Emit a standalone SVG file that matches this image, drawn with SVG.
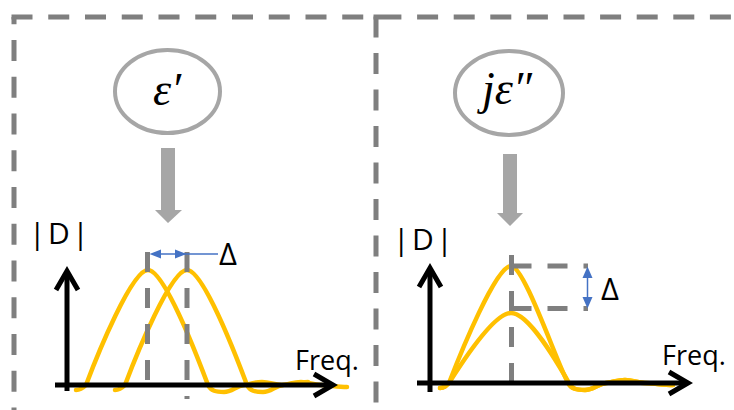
<svg xmlns="http://www.w3.org/2000/svg" width="734" height="410" viewBox="0 0 734 410">
<style>
.box{fill:none;stroke:#7f7f7f;stroke-width:5;stroke-dasharray:21 15.75}
.gd{fill:none;stroke:#7f7f7f;stroke-width:5;stroke-dasharray:20 16}
.ell{fill:#fff;stroke:#a6a6a6;stroke-width:4}
.blk{fill:#a6a6a6}
.curve{fill:none;stroke:#ffc000;stroke-width:4.5;stroke-linecap:round;stroke-linejoin:round}
.axis{fill:none;stroke:#000;stroke-width:5;marker-end:url(#chev)}
.blue{fill:none;stroke:#4472c4;stroke-width:1.5}
.bh{fill:#4472c4}
.lbl{font-family:"Open Sans","Liberation Sans",sans-serif;fill:#000}
.math{font-family:"Liberation Serif","DejaVu Serif",serif;font-style:italic;fill:#000;text-anchor:middle}
</style>
<defs>
<marker id="chev" markerUnits="userSpaceOnUse" markerWidth="30" markerHeight="30" refX="22" refY="13" orient="auto" overflow="visible">
<path d="M3 2 L22 13 L3 24" fill="none" stroke="#000" stroke-width="5"/>
</marker>
</defs>

<g id="frames">
<line class="box" x1="11.5" y1="17" x2="366" y2="17"/>
<line class="box" x1="14" y1="17" x2="14" y2="420" stroke-dashoffset="13.75"/>
<line class="box" x1="376" y1="16.5" x2="376" y2="420" style="stroke-dasharray:21 15.5"/>
<line x1="373.5" y1="17" x2="401.4" y2="17" stroke="#7f7f7f" stroke-width="5"/>
<line class="box" x1="417.1" y1="17" x2="734" y2="17" style="stroke-dasharray:21 15.6"/>
</g>

<g id="node-eps1">
<ellipse class="ell" cx="167.5" cy="91.5" rx="52.5" ry="41.5"/>
<text class="math" x="167" y="105" font-size="46">ε′</text>
</g>

<g id="node-eps2">
<ellipse class="ell" cx="509" cy="93" rx="54" ry="42"/>
<text class="math" x="507" y="104" font-size="46">jε″</text>
</g>

<g id="connectors">
<polygon class="blk" points="161,148 175,148 175,210 182,210 168,223 155,210 161,210"/>
<polygon class="blk" points="503,154 517,154 517,213 523,213 510,226 497,213 503,213"/>
</g>

<g id="chart-left">
<path class="curve" d="M76 390 C80 390 83 388 86 385 C98 353 132 270 148 270 C164 270 196 353 208 385 C211 391 216 392 224 392 C232 392 236 386 244 385 C252 384 254 382 262 382 C270 382 274 385 282 385 C290 385 298 382 308 382"/>
<path class="curve" d="M115 390 C119 390 122 388 125 385 C137 353 171 270 187 270 C203 270 235 353 247 385 C250 391 255 392 263 392 C271 392 275 386 283 385 C291 384 293 382 301 382 C309 382 313 385 321 385 C329 385 337 387 347 387"/>
<line class="gd" x1="147.5" y1="252" x2="147.5" y2="385"/>
<line class="gd" x1="187" y1="252" x2="187" y2="399"/>
<line class="axis" x1="67" y1="391" x2="67" y2="271"/>
<line class="axis" x1="55" y1="385" x2="333" y2="385"/>
<line class="blue" x1="155" y1="254" x2="218" y2="254"/>
<polygon class="bh" points="149.5,254 161,249.5 161,258.5"/>
<polygon class="bh" points="186.5,254 175,249.5 175,258.5"/>
<text class="lbl" x="29" y="244" font-size="30" letter-spacing="2.5">|D|</text>
<text class="lbl" x="219" y="265" font-size="31">Δ</text>
<text class="lbl" x="295" y="370" font-size="27">Freq.</text>
</g>

<g id="chart-right">
<path class="curve" d="M440 388 C444 388 446 386 449 383 C461 364 494 313 511 313 C529 313 557 362 569 383 C572 389 577 390 585 390 C593 390 598 384 606 383 C614 382 617 380 625 380 C633 380 637 383 645 383 C653 383 663 385 673 385"/>
<path class="curve" d="M440 388 C444 388 446 386 449 383 C461 352 496 266 511 266 C524 266 555 358 568 383 C571 389 576 390 585 390 C593 390 598 384 606 383 C614 382 617 380 625 380 C633 380 637 383 645 383 C653 383 663 385 673 385"/>
<line class="gd" x1="511.5" y1="255" x2="511.5" y2="385"/>
<line class="gd" x1="511.5" y1="266" x2="588" y2="266"/>
<line class="gd" x1="511.5" y1="308.5" x2="588" y2="308.5"/>
<line class="axis" x1="430" y1="392" x2="430" y2="268"/>
<line class="axis" x1="417" y1="383" x2="688" y2="383"/>
<line class="blue" x1="587.5" y1="275" x2="587.5" y2="300"/>
<polygon class="bh" points="587.5,266.5 582.5,278 592.5,278"/>
<polygon class="bh" points="587.5,308.5 582.5,297 592.5,297"/>
<text class="lbl" x="393" y="250" font-size="30" letter-spacing="2.5">|D|</text>
<text class="lbl" x="601" y="300" font-size="31">Δ</text>
<text class="lbl" x="662" y="365" font-size="27">Freq.</text>
</g>
</svg>
